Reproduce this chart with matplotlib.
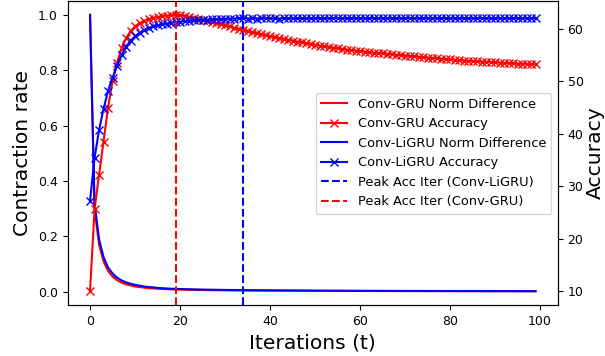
import numpy as np
import matplotlib
matplotlib.use('Agg')
import matplotlib.pyplot as plt

# Data
iterations = np.arange(100)

gru_norm = [1.0, 0.30, 0.17, 0.11, 0.075, 0.055, 0.042, 0.033, 0.027, 0.023,
            0.019, 0.017, 0.015, 0.013, 0.012, 0.011, 0.010, 0.0093, 0.0087, 0.0082,
            0.0078, 0.0074, 0.0070, 0.0067, 0.0064, 0.0062, 0.0060, 0.0058, 0.0056, 0.0054,
            0.0052, 0.0051, 0.0049, 0.0048, 0.0047, 0.0046, 0.0045, 0.0044, 0.0043, 0.0042,
            0.0041, 0.0040, 0.0039, 0.0039, 0.0038, 0.0037, 0.0036, 0.0036, 0.0035, 0.0035,
            0.0034, 0.0033, 0.0033, 0.0032, 0.0032, 0.0031, 0.0031, 0.0030, 0.0030, 0.0029,
            0.0029, 0.0029, 0.0028, 0.0028, 0.0027, 0.0027, 0.0027, 0.0026, 0.0026, 0.0026,
            0.0025, 0.0025, 0.0025, 0.0024, 0.0024, 0.0024, 0.0023, 0.0023, 0.0023, 0.0023,
            0.0022, 0.0022, 0.0022, 0.0022, 0.0021, 0.0021, 0.0021, 0.0021, 0.0020, 0.0020,
            0.0020, 0.0020, 0.0020, 0.0019, 0.0019, 0.0019, 0.0019, 0.0019, 0.0018, 0.0018]

ligru_norm = [1.0, 0.32, 0.19, 0.125, 0.088, 0.066, 0.051, 0.041, 0.034, 0.029,
              0.025, 0.022, 0.019, 0.017, 0.016, 0.014, 0.013, 0.012, 0.011, 0.0105,
              0.0100, 0.0096, 0.0092, 0.0088, 0.0084, 0.0080, 0.0077, 0.0074, 0.0071, 0.0069,
              0.0067, 0.0065, 0.0063, 0.0061, 0.0060, 0.0058, 0.0057, 0.0055, 0.0054, 0.0053,
              0.0052, 0.0051, 0.0050, 0.0049, 0.0048, 0.0047, 0.0046, 0.0045, 0.0044, 0.0043,
              0.0042, 0.0042, 0.0041, 0.0040, 0.0039, 0.0039, 0.0038, 0.0037, 0.0037, 0.0036,
              0.0035, 0.0035, 0.0034, 0.0034, 0.0033, 0.0033, 0.0032, 0.0032, 0.0031, 0.0031,
              0.0030, 0.0030, 0.0030, 0.0029, 0.0029, 0.0028, 0.0028, 0.0028, 0.0027, 0.0027,
              0.0027, 0.0026, 0.0026, 0.0026, 0.0025, 0.0025, 0.0025, 0.0024, 0.0024, 0.0024,
              0.0024, 0.0023, 0.0023, 0.0023, 0.0023, 0.0022, 0.0022, 0.0022, 0.0022, 0.0021]

gru_acc = [10.0, 25.6, 32.2, 38.5, 45.0, 50.1, 53.6, 56.3, 58.2, 59.6,
           60.5, 61.1, 61.5, 61.9, 62.1, 62.3, 62.45, 62.55, 62.6, 62.7,
           62.6, 62.5, 62.35, 62.2, 62.0, 61.8, 61.6, 61.4, 61.15, 60.9,
           60.7, 60.5, 60.25, 60.0, 59.8, 59.6, 59.4, 59.2, 59.0, 58.8,
           58.6, 58.45, 58.3, 58.1, 57.95, 57.8, 57.6, 57.45, 57.3, 57.15,
           57.0, 56.85, 56.7, 56.6, 56.45, 56.3, 56.2, 56.1, 56.0, 55.9,
           55.8, 55.7, 55.6, 55.5, 55.45, 55.35, 55.25, 55.2, 55.1, 55.0,
           54.95, 54.85, 54.8, 54.7, 54.65, 54.55, 54.5, 54.4, 54.35, 54.3,
           54.2, 54.15, 54.1, 54.0, 53.95, 53.9, 53.85, 53.8, 53.75, 53.7,
           53.65, 53.6, 53.55, 53.5, 53.45, 53.4, 53.4, 53.35, 53.3, 53.3]

ligru_acc = [27.2, 35.4, 40.7, 44.8, 48.2, 50.7, 53.0, 55.0, 56.6, 57.8,
             58.6, 59.3, 59.8, 60.2, 60.5, 60.7, 60.9, 61.05, 61.2, 61.3,
             61.4, 61.5, 61.6, 61.65, 61.7, 61.75, 61.8, 61.85, 61.9, 61.92,
             61.95, 61.98, 62.0, 62.02, 62.08, 62.01, 62.03, 62.0, 62.04, 62.02,
             62.05, 62.03, 62.01, 62.04, 62.06, 62.02, 62.03, 62.05, 62.04, 62.02,
             62.06, 62.05, 62.03, 62.04, 62.07, 62.05, 62.04, 62.06, 62.03, 62.05,
             62.06, 62.04, 62.05, 62.07, 62.05, 62.06, 62.04, 62.05, 62.07, 62.06,
             62.05, 62.06, 62.04, 62.07, 62.06, 62.05, 62.06, 62.07, 62.05, 62.06,
             62.04, 62.06, 62.07, 62.05, 62.06, 62.04, 62.05, 62.07, 62.06, 62.05,
             62.06, 62.04, 62.05, 62.07, 62.06, 62.05, 62.04, 62.06, 62.05, 62.06]

peak_gru = int(np.argmax(gru_acc))
peak_ligru = int(np.argmax(ligru_acc))

fig, ax1 = plt.subplots(figsize=(6.05, 3.56), dpi=100)
fig.subplots_adjust(left=0.112, right=0.922, top=0.997, bottom=0.143)

l1, = ax1.plot(iterations, gru_norm, color='red', label='Conv-GRU Norm Difference')
l3, = ax1.plot(iterations, ligru_norm, color='blue', label='Conv-LiGRU Norm Difference')
ax1.set_xlabel('Iterations (t)', fontsize=14.6)
ax1.set_ylabel('Contraction rate', fontsize=14.6)
ax1.tick_params(labelsize=9)

ax2 = ax1.twinx()
l2, = ax2.plot(iterations, gru_acc, color='red', marker='x', markersize=5.5, label='Conv-GRU Accuracy')
l4, = ax2.plot(iterations, ligru_acc, color='blue', marker='x', markersize=5.5, label='Conv-LiGRU Accuracy')
l5 = ax2.axvline(peak_ligru, color='blue', linestyle='--', label='Peak Acc Iter (Conv-LiGRU)')
l6 = ax2.axvline(peak_gru, color='red', linestyle='--', label='Peak Acc Iter (Conv-GRU)')
ax2.set_ylabel('Accuracy', fontsize=14.6, labelpad=2)
ax2.tick_params(labelsize=9)

handles = [l1, l2, l3, l4, l5, l6]
ax2.legend(handles, [h.get_label() for h in handles], loc='center right', fontsize=9.4)

plt.savefig('out.png')
